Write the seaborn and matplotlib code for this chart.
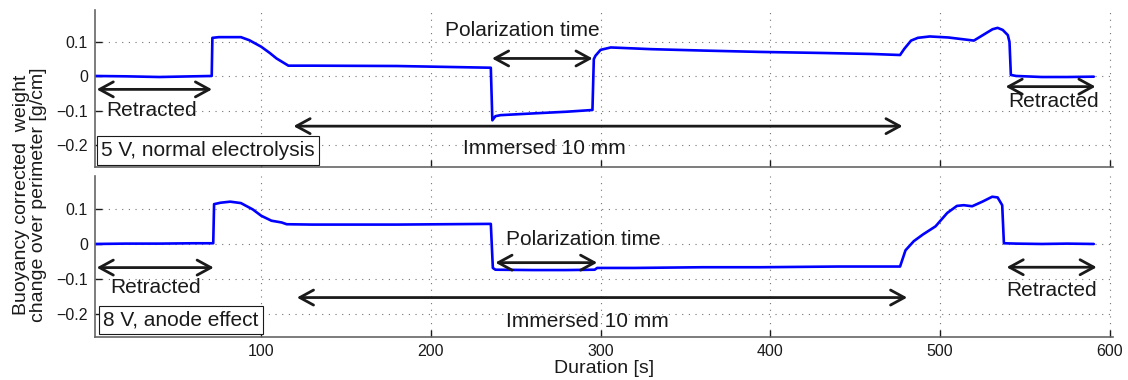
import numpy as np
import pandas as pd
import matplotlib
matplotlib.use("Agg")
import matplotlib.pyplot as plt
import seaborn as sns

# Weight-change traces (time in s, value in g/cm)
t_5v = [2, 20, 40, 60, 70.8, 71.2, 75, 88, 93, 100, 105, 109, 113, 116, 130, 180,
        235.3, 236.2, 238, 241, 260, 280, 295.2, 296, 297, 300, 306, 330, 360, 394,
        430, 460, 476.5, 479, 483, 487, 494, 505, 520, 527, 531, 534, 537, 540, 541,
        541.8, 545, 560, 575, 590.7]
w_5v = [0.001, 0.0, -0.002, 0.0, 0.001, 0.112, 0.114, 0.114, 0.105, 0.086, 0.068,
        0.052, 0.040, 0.031, 0.031, 0.030, 0.025, -0.128, -0.116, -0.113, -0.108,
        -0.103, -0.098, 0.050, 0.060, 0.077, 0.084, 0.079, 0.075, 0.071, 0.068,
        0.065, 0.062, 0.080, 0.104, 0.112, 0.116, 0.113, 0.104, 0.125, 0.137, 0.141,
        0.135, 0.120, 0.100, 0.004, 0.001, -0.002, -0.002, -0.001]

t_8v = [2, 20, 40, 60, 71.7, 72.2, 76, 81.7, 88, 95, 100, 106, 112, 115, 130, 180,
        235.3, 236.5, 238, 260, 280, 296.5, 298, 320, 360, 394, 440, 476.5, 479.7,
        484.6, 490, 497.4, 504.3, 510, 514, 519, 525, 530.8, 534, 536.7, 537.7, 545,
        560, 575, 590.7]
w_8v = [0.0, 0.001, 0.001, 0.002, 0.002, 0.113, 0.117, 0.120, 0.116, 0.098, 0.080,
        0.066, 0.061, 0.056, 0.055, 0.055, 0.057, -0.068, -0.073, -0.074, -0.074,
        -0.073, -0.068, -0.068, -0.066, -0.066, -0.064, -0.064, -0.018, 0.008, 0.027,
        0.050, 0.088, 0.108, 0.110, 0.107, 0.120, 0.134, 0.132, 0.110, 0.002, 0.001,
        0.0, 0.001, 0.0]

y_ticks = [-0.2, -0.1, 0.0, 0.1]
y_tick_labels = ["\u22120.2", "\u22120.1", "0", "0.1"]
x_ticks = [100, 200, 300, 400, 500, 600]
x_tick_labels = ["100", "200", "300", "400", "500", "600"]

sns.set_theme(style="ticks")
plt.rcParams["font.family"] = ["Liberation Sans", "DejaVu Sans"]
plt.rcParams["axes.unicode_minus"] = True

fig = plt.figure(figsize=(11.28, 3.8), dpi=100)
left, width = 0.0842, 0.9025
ax_top = fig.add_axes([left, 0.5613, width, 0.4124])
ax_bot = fig.add_axes([left, 0.1140, width, 0.4230])

df5 = pd.DataFrame({"t": t_5v, "w": w_5v})
df8 = pd.DataFrame({"t": t_8v, "w": w_8v})

ann_fs = 15


def style_axes(ax, show_xlabels):
    ax.set_xlim(2, 602)
    ax.set_ylim(-0.263, 0.193)
    ax.set_yticks(y_ticks)
    ax.set_yticklabels(y_tick_labels)
    ax.set_xticks(x_ticks)
    if show_xlabels:
        ax.set_xticklabels(x_tick_labels)
    else:
        ax.set_xticklabels([])
    ax.grid(True, linestyle=(0, (1, 5)), color="0.45", linewidth=0.8)
    ax.set_axisbelow(True)
    for s in ["top", "right"]:
        ax.spines[s].set_visible(False)
    for s in ["left", "bottom"]:
        ax.spines[s].set_color("0.4")
        ax.spines[s].set_linewidth(1.2)
    ax.tick_params(direction="in", length=5, width=1, color="k",
                   labelsize=11.5, labelcolor="#1a1a1a", pad=5)
    ax.set_xlabel("")
    ax.set_ylabel("")
    ax.set_facecolor("white")


def darrow(ax, x1, x2, y):
    ax.annotate("", xy=(x2, y), xytext=(x1, y),
                arrowprops=dict(arrowstyle="<->,head_length=0.55,head_width=0.3",
                                lw=2, color="k", shrinkA=0, shrinkB=0,
                                mutation_scale=18))


def label(ax, x, y, s):
    ax.text(x, y, s, fontsize=ann_fs, ha="center", va="center", color="k")


sns.lineplot(data=df5, x="t", y="w", ax=ax_top, color="#0000ff", linewidth=1.9,
             estimator=None, sort=False)
sns.lineplot(data=df8, x="t", y="w", ax=ax_bot, color="#0000ff", linewidth=1.9,
             estimator=None, sort=False)

style_axes(ax_top, False)
style_axes(ax_bot, True)

# Upper panel: 5 V
darrow(ax_top, 3, 71, -0.038)
label(ax_top, 35.5, -0.098, "Retracted")
darrow(ax_top, 119, 478, -0.145)
label(ax_top, 267, -0.21, "Immersed 10 mm")
darrow(ax_top, 236, 295.3, 0.052)
label(ax_top, 254, 0.133, "Polarization time")
darrow(ax_top, 538.7, 591.7, -0.030)
label(ax_top, 567, -0.074, "Retracted")
ax_top.text(0.006, 0.103, "5 V, normal electrolysis", transform=ax_top.transAxes,
            fontsize=ann_fs, ha="left", va="center", color="k",
            bbox=dict(boxstyle="square,pad=0.22", fc="white", ec="k", lw=0.8))

# Lower panel: 8 V
darrow(ax_bot, 3, 72, -0.067)
label(ax_bot, 38, -0.123, "Retracted")
darrow(ax_bot, 121, 480.7, -0.152)
label(ax_bot, 292, -0.22, "Immersed 10 mm")
darrow(ax_bot, 238, 298, -0.053)
label(ax_bot, 290, 0.013, "Polarization time")
darrow(ax_bot, 539.3, 592.4, -0.066)
label(ax_bot, 566, -0.133, "Retracted")
ax_bot.text(0.008, 0.104, "8 V, anode effect", transform=ax_bot.transAxes,
            fontsize=ann_fs, ha="left", va="center", color="k",
            bbox=dict(boxstyle="square,pad=0.22", fc="white", ec="k", lw=0.8))

ax_bot.set_xlabel("Duration [s]", fontsize=14, color="#1a1a1a", labelpad=1)
fig.text(0.027, 0.487, "Buoyancy corrected  weight\nchange over perimeter [g/cm]",
         rotation=90, ha="center", va="center", fontsize=14, color="#1a1a1a",
         linespacing=1.0)

fig.savefig("out.png", dpi=100, facecolor="white")
